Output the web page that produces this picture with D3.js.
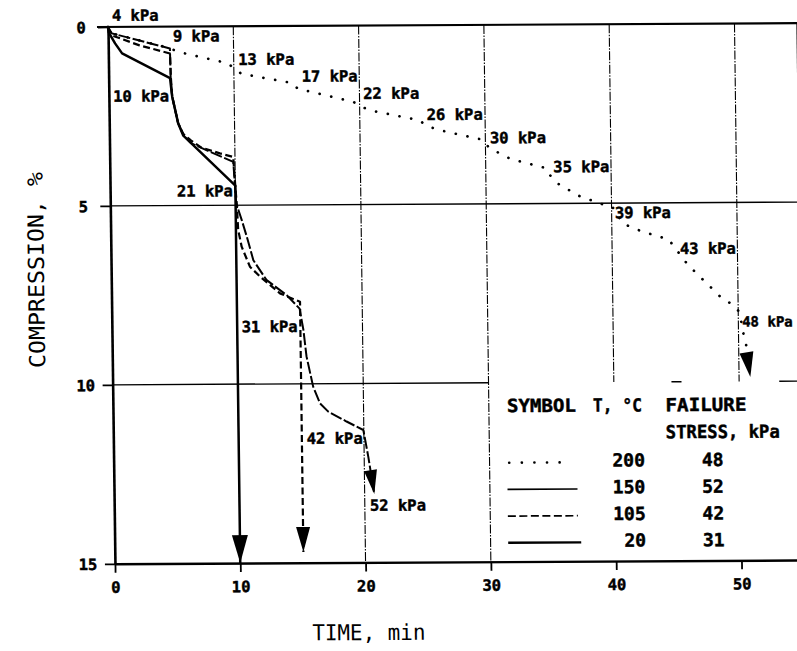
<!DOCTYPE html>
<html>
<head>
<meta charset="utf-8">
<script src="https://cdn.jsdelivr.net/npm/d3@7"></script>
<style>
  html, body { margin: 0; padding: 0; background: #fff; }
  svg { display: block; }
  text { font-family: "DejaVu Sans Mono", monospace; fill: #000; }
  .heavy { stroke: #000; stroke-width: 0.45px; }
</style>
</head>
<body>
<svg id="chart" width="797" height="651"></svg>
<script>
// ---- Axis ticks ----
const xTicks = [0, 10, 20, 30, 40, 50];
const yTicks = [0, 5, 10, 15];

// ---- Compression (%) versus time (min), one array of [time, compression] per temperature ----
// 200 °C, dotted, fails at 48 kPa
const series200 = [
  [0, 0], [0.3, 0.18], [4.9, 0.6], [5.6, 0.71], [9.5, 1.03], [10.6, 1.33], [13.5, 1.52],
  [14.6, 1.59], [15.1, 1.76], [16.0, 1.83], [19.5, 2.13], [20.2, 2.28], [21.1, 2.39],
  [24.7, 2.65], [25.4, 2.82], [26.3, 2.93], [29.8, 3.21], [30.3, 3.44], [32.0, 3.75],
  [34.8, 4.01], [35.2, 4.25], [35.8, 4.46], [37.4, 4.79], [39.2, 5.02], [40.1, 5.12],
  [40.9, 5.57], [41.9, 5.73], [43.6, 5.93], [44.5, 6.01], [45.0, 6.25], [46.0, 6.72],
  [46.7, 6.97], [48.7, 7.67], [49.5, 7.84], [50.1, 8.06], [50.4, 8.68], [50.9, 9.88]
];
// 150 °C, fails at 52 kPa
const series150 = [
  [0, 0], [0.15, 0.12], [0.3, 0.18], [4.92, 0.61], [4.95, 1.44], [5.05, 1.95], [5.5, 2.7],
  [5.9, 3.02], [6.5, 3.26], [8.0, 3.5], [9.86, 3.79], [10.05, 4.95], [10.47, 5.41],
  [10.86, 5.88], [11.36, 6.54], [12.38, 7.09], [13.98, 7.52], [15.0, 7.9], [15.28, 8.49],
  [15.5, 9.23], [16.0, 10.08], [16.53, 10.55], [17.18, 10.78], [18.63, 11.06],
  [19.96, 11.3], [20.33, 12.05], [20.77, 13.09]
];
// 105 °C, dashed, fails at 42 kPa
const series105 = [
  [0, 0], [0.4, 0.25], [2.5, 0.52], [4.92, 0.75], [4.97, 1.44], [5.05, 1.95], [5.5, 2.7],
  [5.9, 3.0], [6.5, 3.18], [7.3, 3.38], [8.8, 3.55], [9.86, 3.65], [10.0, 4.5],
  [10.09, 4.95], [10.18, 5.69], [10.44, 6.16], [11.08, 6.72], [11.88, 7.0],
  [13.45, 7.47], [15.04, 7.71], [15.05, 14.7]
];
// 20 °C, fails at 31 kPa
const series20 = [
  [0, 0], [0.05, 0.15], [0.55, 0.46], [1.1, 0.74], [4.9, 1.44], [5.05, 1.95],
  [5.5, 2.7], [5.9, 3.05], [10.0, 4.45], [10.0, 15]
];

// ---- Applied stress at each load step: text and the [time, compression] point it sits at ----
const stepLabels = [
  { text: "4 kPa",  t: 0.32,  v: -0.17 },
  { text: "9 kPa",  t: 5.17,  v: 0.42 },
  { text: "13 kPa", t: 10.36, v: 1.08 },
  { text: "17 kPa", t: 15.4,  v: 1.56 },
  { text: "22 kPa", t: 20.3,  v: 2.05 },
  { text: "26 kPa", t: 25.34, v: 2.65 },
  { text: "30 kPa", t: 30.37, v: 3.31 },
  { text: "35 kPa", t: 35.39, v: 4.13 },
  { text: "39 kPa", t: 40.26, v: 5.42 },
  { text: "43 kPa", t: 45.41, v: 6.43 },
  { text: "48 kPa", t: 50.3,  v: 8.47 },
  { text: "10 kPa", t: 0.34,  v: 2.09 },
  { text: "21 kPa", t: 5.33,  v: 4.75 },
  { text: "31 kPa", t: 10.35, v: 8.55 },
  { text: "42 kPa", t: 15.43, v: 11.68 },
  { text: "52 kPa", t: 20.41, v: 13.56 }
];

// ---- Legend table ----
const temperatures = ["200", "150", "105", "20"];
const failureStress = ["48", "52", "42", "31"];

// ---- Line styles per series ----
const styles = {
  s200: { dash: "0.1,11.8", width: 2.7, cap: "round" },
  s150: { dash: "12,2.5", width: 2.0, cap: "butt" },
  s105: { dash: "7,3.5", width: 2.2, cap: "butt" },
  s20:  { dash: null, width: 2.5, cap: "butt" }
};

const svg = d3.select("#chart");
svg.append("rect").attr("width", 797).attr("height", 651).attr("fill", "#fff");

// The plotted sheet sits slightly askew on the page.
const g = svg.append("g").attr("transform", "matrix(1,-0.0055,0.013,1,-3.85,2.37)");

const x = d3.scaleLinear().domain([0, 55]).range([111.5, 800.65]);
const y = d3.scaleLinear().domain([0, 15]).range([25.2, 562.05]);

// ---- Grid ----
const gridV = [{ t: 10, v1: 15 }, { t: 20, v1: 15 }, { t: 30, v1: 15 }, { t: 40, v1: 10 }, { t: 50, v1: 10 }];
g.append("g").selectAll("line").data(gridV).join("line")
  .attr("x1", d => x(d.t)).attr("x2", d => x(d.t))
  .attr("y1", y(0)).attr("y2", d => y(d.v1))
  .attr("stroke", "#000").attr("stroke-width", 1.1).attr("stroke-dasharray", "9,1.5,1.5,1.5");

const gridH = [{ v: 5, t0: 0, t1: 55 }, { v: 10, t0: 0, t1: 30 }, { v: 10, t0: 44.6, t1: 45.4 }, { v: 10, t0: 53.2, t1: 55 }];
g.append("g").selectAll("line").data(gridH).join("line")
  .attr("x1", d => x(d.t0)).attr("x2", d => x(d.t1))
  .attr("y1", d => y(d.v)).attr("y2", d => y(d.v))
  .attr("stroke", "#000").attr("stroke-width", 1.4);

// ---- Axes ----
const axisY = g.append("g").attr("transform", `translate(${x(0)},0)`)
  .call(d3.axisLeft(y).tickValues(yTicks).tickSize(10).tickSizeOuter(0).tickFormat(d3.format("d")));
axisY.select(".domain").attr("stroke-width", 2.6);
axisY.selectAll(".tick line").attr("stroke-width", 1.8);
axisY.selectAll(".tick text")
  .attr("class", "heavy")
  .attr("x", -27).attr("dy", "0.36em").attr("text-anchor", "middle")
  .style("font-family", "'DejaVu Sans Mono', monospace").style("font-weight", "bold").style("font-size", "15.5px");

const axisX = g.append("g").attr("transform", `translate(0,${y(15)})`)
  .call(d3.axisBottom(x).tickValues(xTicks).tickSize(9).tickSizeOuter(0).tickFormat(d3.format("d")));
axisX.select(".domain").attr("stroke-width", 2.4);
axisX.selectAll(".tick line").attr("stroke-width", 1.8);
axisX.selectAll(".tick text")
  .attr("class", "heavy")
  .attr("y", 29).attr("dy", 0)
  .style("font-family", "'DejaVu Sans Mono', monospace").style("font-weight", "bold").style("font-size", "15.5px");

// top border and right border of the plot frame
g.append("line").attr("x1", x(0) - 11).attr("x2", x(55)).attr("y1", y(0)).attr("y2", y(0))
  .attr("stroke", "#000").attr("stroke-width", 2.2);
g.append("line").attr("x1", x(55)).attr("x2", x(55)).attr("y1", y(0)).attr("y2", y(15))
  .attr("stroke", "#000").attr("stroke-width", 1.6);

// ---- Curves ----
const line = d3.line().x(d => x(d[0])).y(d => y(d[1]));

function drawSeries(data, st) {
  g.append("path").datum(data).attr("d", line)
    .attr("fill", "none").attr("stroke", "#000")
    .attr("stroke-width", st.width).attr("stroke-linecap", st.cap)
    .attr("stroke-linejoin", "round")
    .attr("stroke-dasharray", st.dash);
}
function arrowHead(data, len, half) {
  const p = data[data.length - 2], q = data[data.length - 1];
  const px = x(p[0]), py = y(p[1]), qx = x(q[0]), qy = y(q[1]);
  const L = Math.hypot(qx - px, qy - py);
  const ux = (qx - px) / L, uy = (qy - py) / L;
  const bx = qx - ux * len, by = qy - uy * len;
  const nx = -uy * half, ny = ux * half;
  g.append("path")
    .attr("d", `M${qx},${qy}L${bx + nx},${by + ny}L${bx - nx},${by - ny}Z`)
    .attr("fill", "#000");
}

drawSeries(series105, styles.s105);
drawSeries(series150, styles.s150);
drawSeries(series20, styles.s20);
drawSeries(series200.slice(0, -1).concat([[50.8, 9.3]]), styles.s200);

arrowHead(series20, 28, 8);
arrowHead(series105, 25, 7);
arrowHead(series150, 24, 6.5);
arrowHead(series200, 25, 7);

// ---- Stress labels (the last one sits at the right edge, so it is set a little smaller) ----
g.append("g").selectAll("text").data(stepLabels).join("text")
  .attr("class", "heavy")
  .attr("x", d => x(d.t)).attr("y", d => y(d.v))
  .attr("font-weight", "bold")
  .attr("font-size", d => d.text === "48 kPa" ? 14 : 15.5)
  .text(d => d.text);

// ---- Legend ----
const lg = g.append("g");
const hdr = [
  { text: "SYMBOL", x: 505.5, y: 412.5, len: 69 },
  { text: "T, °C", x: 591.5, y: 412.5, len: 49 },
  { text: "FAILURE", x: 664, y: 412.5, len: 81 },
  { text: "STRESS, kPa", x: 664, y: 439.5, len: 114 }
];
lg.selectAll("text.h").data(hdr).join("text").attr("class", "h heavy")
  .attr("x", d => d.x).attr("y", d => d.y)
  .attr("font-weight", "bold").attr("font-size", 18)
  .attr("textLength", d => d.len).attr("lengthAdjust", "spacingAndGlyphs")
  .text(d => d.text);

const rowY = i => 467.6 + i * 26.7;
const legendDash = ["0.1,12.5", null, "8,3.5", null];
const legendWidths = [2.6, 1.6, 1.7, 2.4];
const legendEnd = [570, 575, 575, 578];
temperatures.forEach((tmp, i) => {
  lg.append("line")
    .attr("x1", i === 0 ? 507 : 505).attr("x2", legendEnd[i])
    .attr("y1", rowY(i) - 4.5).attr("y2", rowY(i) - 4.5)
    .attr("stroke", "#000")
    .attr("stroke-width", legendWidths[i])
    .attr("stroke-linecap", i === 0 ? "round" : "butt")
    .attr("stroke-dasharray", legendDash[i]);
  lg.append("text").attr("class", "heavy").attr("x", 642.8).attr("y", rowY(i))
    .attr("text-anchor", "end").attr("font-weight", "bold").attr("font-size", 18).text(tmp);
  lg.append("text").attr("class", "heavy").attr("x", 710.5).attr("y", rowY(i))
    .attr("text-anchor", "middle").attr("font-weight", "bold").attr("font-size", 18).text(failureStress[i]);
});

// ---- Axis titles ----
g.append("text").attr("x", 364.5).attr("y", 639.7)
  .attr("text-anchor", "middle").attr("font-size", 22)
  .attr("textLength", 113).attr("lengthAdjust", "spacingAndGlyphs")
  .text("TIME, min");
g.append("text").attr("transform", "translate(44.3,267.9) rotate(-90)")
  .attr("text-anchor", "middle").attr("font-size", 22)
  .attr("textLength", 196).attr("lengthAdjust", "spacingAndGlyphs")
  .text("COMPRESSION, %");
</script>
</body>
</html>
